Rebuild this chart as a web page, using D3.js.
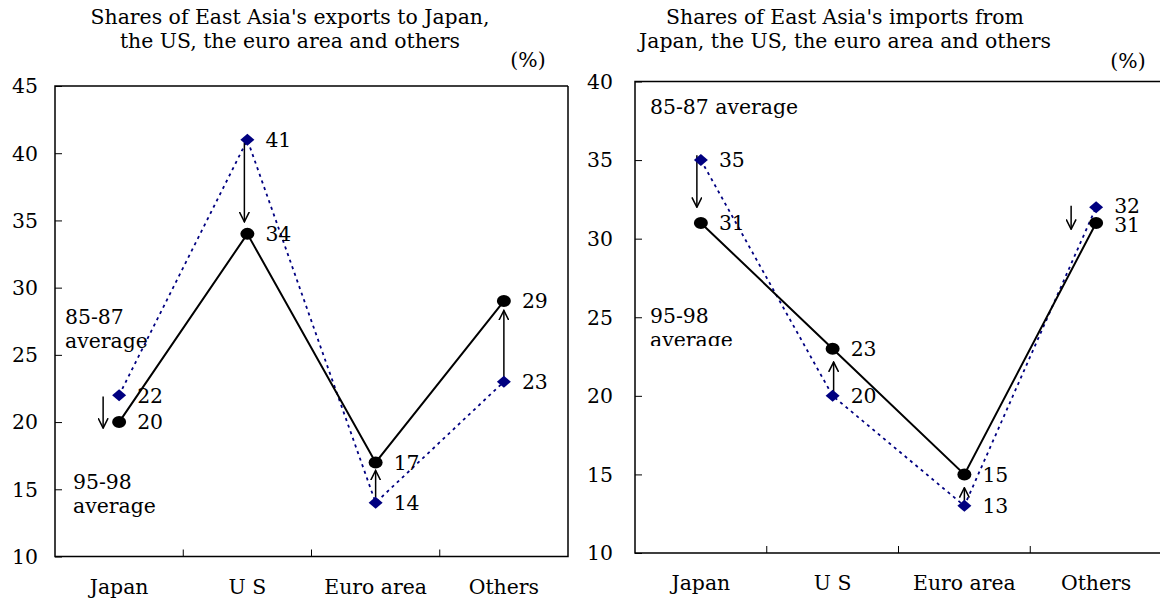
<!DOCTYPE html>
<html>
<head>
<meta charset="utf-8">
<script src="https://cdn.jsdelivr.net/npm/d3@7"></script>
<style>
  html, body { margin: 0; padding: 0; background: #fff; }
  svg { display: block; font-family: "DejaVu Serif", "Liberation Serif", serif; }
</style>
</head>
<body>
<svg id="chart" width="1160" height="599"></svg>
<script>
// Regions
const categories = ["Japan", "U S", "Euro area", "Others"];

// Exports of East Asia (share, %)
const exports8587 = [22, 41, 14, 23];
const exports9598 = [20, 34, 17, 29];

// Imports of East Asia (share, %)
const imports8587 = [35, 20, 13, 32];
const imports9598 = [31, 23, 15, 31];

// Y-axis tick labels
const exportTicks = [10, 15, 20, 25, 30, 35, 40, 45];
const importTicks = [10, 15, 20, 25, 30, 35, 40];

// Change arrows: [category index, from value, to value, horizontal shift]
const exportArrows = [[0, 21.9, 19.55, -16], [1, 40.8, 34.9, -3], [2, 14.4, 16.4, 0], [3, 23.35, 28.3, 0]];
const importArrows = [[0, 35.3, 32.0, -4], [1, 20.25, 22.15, 1], [2, 13.2, 14.15, 0], [3, 32.1, 30.6, -25]];

const svg = d3.select("#chart");
const NAVY = "#000080";
const FS = 20.4;

// Marker for the change arrows
const defs = svg.append("defs");
defs.append("marker")
  .attr("id", "arrowhead")
  .attr("viewBox", "0 0 10 10")
  .attr("refX", 9).attr("refY", 5)
  .attr("markerWidth", 11).attr("markerHeight", 11)
  .attr("markerUnits", "userSpaceOnUse")
  .attr("orient", "auto")
  .append("path")
  .attr("d", "M0,0.5 L9,5 L0,9.5")
  .attr("fill", "none")
  .attr("stroke", "#000")
  .attr("stroke-width", 1.4);

// Clip for the lower annotation on the imports panel
defs.append("clipPath").attr("id", "noteClip")
  .append("rect").attr("x", 640).attr("y", 290).attr("width", 120).attr("height", 56);

function panel(cfg) {
  const g = svg.append("g");
  const x = d3.scaleBand().domain(categories).range([cfg.left, cfg.right]);
  const y = d3.scaleLinear().domain(cfg.domain).range([cfg.bottom, cfg.top]);
  const cx = c => x(c) + x.bandwidth() / 2;

  // Title
  const title = g.append("text")
    .attr("text-anchor", "middle")
    .attr("font-size", FS)
    .attr("fill", "#000");
  cfg.title.forEach((t, i) => title.append("tspan")
    .attr("x", cfg.titleX).attr("y", 24 + i * 24).text(t));

  g.append("text")
    .attr("x", cfg.pctX).attr("y", cfg.pctY)
    .attr("text-anchor", "middle")
    .attr("font-size", FS)
    .text("(%)");

  // Y axis with inward ticks
  const yAxis = d3.axisRight(y).tickValues(cfg.ticks).tickSize(7).tickFormat("");
  g.append("g").attr("transform", `translate(${cfg.left},0)`).call(yAxis)
    .call(a => a.select(".domain").remove())
    .call(a => a.selectAll("line").attr("stroke", "#000").attr("stroke-width", 1));

  g.selectAll(".ylab").data(cfg.ticks).join("text")
    .attr("x", cfg.left - cfg.labGap)
    .attr("y", d => y(d))
    .attr("dy", "0.36em")
    .attr("text-anchor", "end")
    .attr("font-size", FS)
    .text(d => d);

  // X axis ticks between categories (pointing up)
  g.selectAll(".xtick").data(categories.slice(1)).join("line")
    .attr("x1", d => x(d)).attr("x2", d => x(d))
    .attr("y1", cfg.bottom).attr("y2", cfg.bottom - 7)
    .attr("stroke", "#000").attr("stroke-width", 1);

  g.selectAll(".xlab").data(categories).join("text")
    .attr("x", d => cx(d))
    .attr("y", cfg.bottom + 37)
    .attr("text-anchor", "middle")
    .attr("font-size", FS)
    .text(d => d);

  // Plot frame
  g.append("path")
    .attr("d", `M${cfg.right},${cfg.top} H${cfg.left} V${cfg.bottom} H${cfg.right} V${cfg.top}`)
    .attr("fill", "none").attr("stroke", "#000").attr("stroke-width", 1.5);

  // 85-87 series: dotted navy line with diamonds
  const line = d3.line().x((d, i) => cx(categories[i])).y(d => y(d));
  g.append("path").datum(cfg.early)
    .attr("d", line)
    .attr("fill", "none").attr("stroke", NAVY)
    .attr("stroke-width", 1.8).attr("stroke-dasharray", "3,4");

  // 95-98 series: solid black line
  g.append("path").datum(cfg.late)
    .attr("d", line)
    .attr("fill", "none").attr("stroke", "#000").attr("stroke-width", 2);

  // Arrows showing the change between periods
  g.selectAll(".arrow").data(cfg.arrows).join("line")
    .attr("x1", d => cx(categories[d[0]]) + d[3])
    .attr("x2", d => cx(categories[d[0]]) + d[3])
    .attr("y1", d => y(d[1]))
    .attr("y2", d => y(d[2]))
    .attr("stroke", "#000").attr("stroke-width", 1.5)
    .attr("marker-end", "url(#arrowhead)");

  g.selectAll(".diamond").data(cfg.early).join("path")
    .attr("d", (d, i) => {
      const px = cx(categories[i]), py = y(d);
      return `M${px - 7},${py} L${px},${py - 6} L${px + 7},${py} L${px},${py + 6} Z`;
    })
    .attr("fill", NAVY);

  g.selectAll(".dot").data(cfg.late).join("ellipse")
    .attr("cx", (d, i) => cx(categories[i]))
    .attr("cy", d => y(d))
    .attr("rx", 7).attr("ry", 6)
    .attr("fill", "#000");

  // Value labels
  cfg.labels.forEach(([vals, dy]) => {
    g.selectAll(null).data(vals).join("text")
      .attr("x", (d, i) => cx(categories[i]) + 18)
      .attr("y", (d, i) => y(d) + dy[i])
      .attr("dy", "0.36em")
      .attr("font-size", FS)
      .text(d => d);
  });

  // Period annotations
  cfg.notes.forEach(n => {
    const t = g.append("text")
      .attr("font-size", FS)
      .attr("clip-path", n.clip ? `url(#${n.clip})` : null);
    n.lines.forEach((s, i) => t.append("tspan").attr("x", n.x).attr("y", n.y + i * 24).text(s));
  });

  return g;
}

panel({
  left: 55, right: 568, top: 86, bottom: 556.5,
  domain: [10, 45], ticks: exportTicks, labGap: 17,
  title: ["Shares of East Asia's exports to Japan,", "the US, the euro area and others"],
  titleX: 290, pctX: 528, pctY: 67,
  early: exports8587, late: exports9598, arrows: exportArrows,
  labels: [[exports8587, [0, 0, 0, 0]], [exports9598, [0, 0, 0, 0]]],
  notes: [
    { x: 65, y: 324, lines: ["85-87", "average"] },
    { x: 73, y: 489, lines: ["95-98", "average"] }
  ]
});

panel({
  left: 635, right: 1162, top: 81.5, bottom: 553,
  domain: [10, 40], ticks: importTicks, labGap: 22,
  title: ["Shares of East Asia's imports from", "Japan, the US, the euro area and others"],
  titleX: 845, pctX: 1128, pctY: 68,
  early: imports8587, late: imports9598, arrows: importArrows,
  labels: [[imports8587, [0, 0, 0, -2]], [imports9598, [0, 0, 0, 2]]],
  notes: [
    { x: 650, y: 114, lines: ["85-87 average"] },
    { x: 650, y: 323, lines: ["95-98", "average"], clip: "noteClip" }
  ]
});
</script>
</body>
</html>
